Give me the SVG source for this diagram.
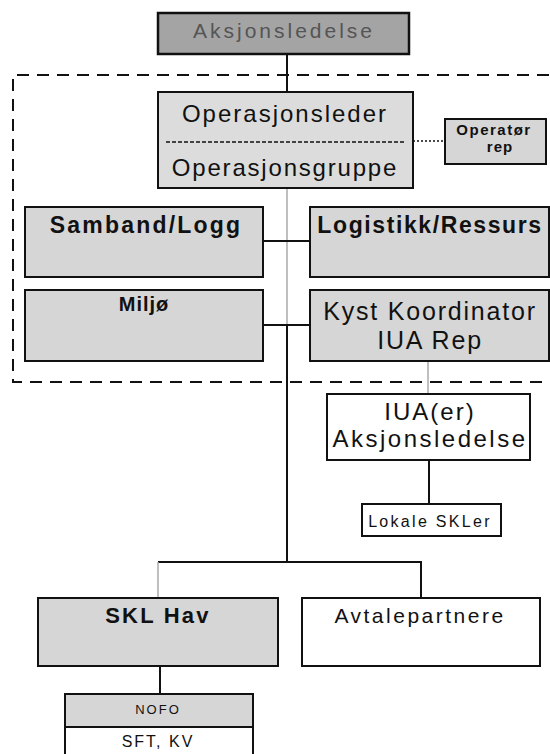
<svg xmlns="http://www.w3.org/2000/svg" width="550" height="754" viewBox="0 0 550 754">
<style>
.box{stroke:#111;stroke-width:2;fill:#d6d6d6}
.wbox{stroke:#111;stroke-width:2;fill:#fff}
.t{font-family:"Liberation Sans",Arial,sans-serif;fill:#111;text-anchor:middle}
.ln{stroke:#111;stroke-width:2;fill:none}
.lg{stroke:#aaa;stroke-width:1.5;fill:none}
</style>
<rect width="550" height="754" fill="#fff"/>
<g id="connectors">
<path class="ln" d="M287,54 V92"/>
<path d="M549,75 H13 V382 H549" fill="none" stroke="#111" stroke-width="2" stroke-dasharray="12 8"/>
<path d="M413,141 H445" stroke="#111" stroke-width="1.5" stroke-dasharray="2 2" fill="none"/>
<path class="lg" d="M287,188 V325"/>
<path class="ln" d="M287,325 V562"/>
<path class="ln" d="M263,241 H310"/>
<path class="ln" d="M263,325 H310"/>
<path class="lg" d="M428,361 V394"/>
<path class="ln" d="M429,460 V504"/>
<path class="ln" d="M158,562 H421 V598"/>
<path class="lg" d="M158,562 V598"/>
<path class="ln" d="M160,666 V694"/>
</g>
<g id="aksjonsledelse">
<rect x="158" y="13" width="251" height="41" fill="#a4a4a4" stroke="#111" stroke-width="2.5"/>
<text class="t" x="284" y="38" font-size="21" letter-spacing="3" style="fill:#555">Aksjonsledelse</text>
</g>
<g id="operasjonsleder">
<rect class="box" x="158" y="92" width="255" height="96" style="fill:#dcdcdc"/>
<path d="M166,142 H405" stroke="#111" stroke-width="1.5" stroke-dasharray="4 2"/>
<text class="t" x="285" y="122" font-size="24" letter-spacing="2">Operasjonsleder</text>
<text class="t" x="285" y="176" font-size="24" letter-spacing="1.8">Operasjonsgruppe</text>
</g>
<g id="operator-rep">
<rect class="box" x="445" y="119" width="101" height="45" stroke-width="3"/>
<text class="t" x="494" y="135" font-size="15" font-weight="bold" letter-spacing="1.5">Operatør</text>
<text class="t" x="500" y="152" font-size="15" font-weight="bold" letter-spacing="1">rep</text>
</g>
<g id="samband">
<rect class="box" x="25" y="207" width="238" height="70"/>
<text class="t" x="146" y="233" font-size="23" font-weight="bold" letter-spacing="2.2">Samband/Logg</text>
</g>
<g id="logistikk">
<rect class="box" x="310" y="207" width="239" height="70"/>
<text class="t" x="430" y="233" font-size="23" font-weight="bold" letter-spacing="1.6">Logistikk/Ressurs</text>
</g>
<g id="miljo">
<rect class="box" x="25" y="290" width="238" height="71"/>
<text class="t" x="144" y="311" font-size="20" font-weight="bold" letter-spacing="1">Miljø</text>
</g>
<g id="kyst">
<rect class="box" x="310" y="290" width="239" height="71"/>
<text class="t" x="430" y="320" font-size="25" letter-spacing="1.8">Kyst Koordinator</text>
<text class="t" x="430" y="349" font-size="25" letter-spacing="1.8">IUA Rep</text>
</g>
<g id="iua">
<rect class="wbox" x="327" y="394" width="203" height="66"/>
<text class="t" x="430" y="420" font-size="24" letter-spacing="2">IUA(er)</text>
<text class="t" x="430" y="447" font-size="24" letter-spacing="2.5">Aksjonsledelse</text>
</g>
<g id="lokale">
<rect class="wbox" x="362" y="504" width="139" height="32"/>
<text class="t" x="430" y="527" font-size="16" letter-spacing="2.3">Lokale SKLer</text>
</g>
<g id="skl-hav">
<rect class="box" x="38" y="598" width="240" height="68"/>
<text class="t" x="158" y="623" font-size="22" font-weight="bold" letter-spacing="2.2">SKL Hav</text>
</g>
<g id="avtalepartnere">
<rect class="wbox" x="302" y="598" width="238" height="68"/>
<text class="t" x="420" y="623" font-size="21" letter-spacing="2.5">Avtalepartnere</text>
</g>
<g id="nofo">
<rect class="wbox" x="65" y="694" width="188" height="70"/>
<rect x="66" y="695" width="186" height="32" fill="#d6d6d6"/>
<path class="ln" d="M65,727 H253"/>
<text class="t" x="158" y="714" font-size="13" letter-spacing="2">NOFO</text>
<text class="t" x="158" y="747" font-size="16" letter-spacing="2">SFT, KV</text>
</g>
</svg>
